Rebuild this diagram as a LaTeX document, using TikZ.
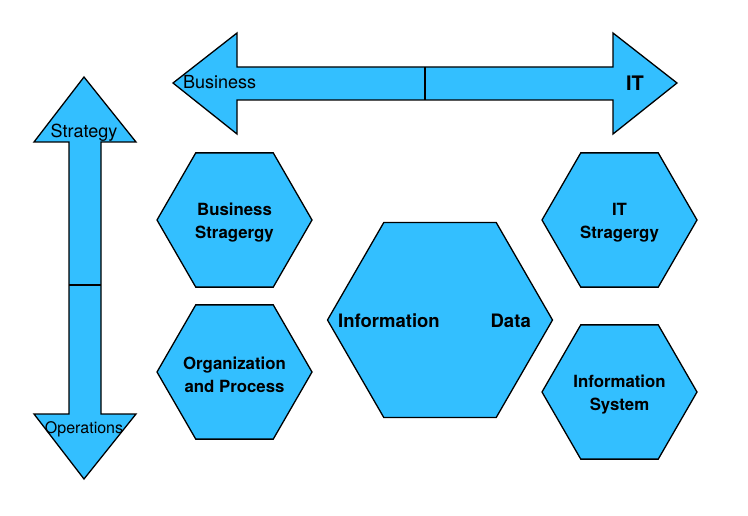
\documentclass[tikz,border=0pt]{standalone}
\usepackage{fontspec}
\setmainfont{TeX Gyre Heros}
\usetikzlibrary{shapes.geometric}
\definecolor{skyfill}{RGB}{51,191,255}
\begin{document}
\begin{tikzpicture}[x=1pt,y=-1pt,
  hexa/.style={regular polygon, regular polygon sides=6, draw, line width=1.3pt,
    fill=skyfill, minimum size=155pt, inner sep=0pt},
  hextext/.style={align=center, inner sep=0pt, yshift=-3pt,
    font=\fontsize{16.8}{23}\selectfont\bfseries},
  bigarrow/.style={draw, line width=1.3pt, fill=skyfill, line join=miter},
  tag/.style={font=\fontsize{18}{20}\selectfont, inner sep=0pt}]
  \useasboundingbox (0,0) rectangle (748,516);
  % Business <-> IT
  \draw[bigarrow] (173,83) -- (237,33) -- (237,67) -- (613,67) -- (613,33) -- (677,83)
    -- (613,134) -- (613,100) -- (237,100) -- (237,134) -- cycle;
  \draw[line width=1.3pt] (425,67) -- (425,100);
  \node[tag, anchor=base west] (business) at (183,89) {Business};
  \node[tag, anchor=base, font=\fontsize{20}{22}\selectfont\bfseries] (it) at (635,91) {IT};
  % Strategy <-> Operations
  \draw[bigarrow] (84,77) -- (136,142) -- (101,142) -- (101,414) -- (136,414) -- (84,479)
    -- (34,414) -- (69,414) -- (69,142) -- (34,142) -- cycle;
  \draw[line width=1.3pt] (69,285) -- (101,285);
  \node[tag, anchor=base] (strategy) at (84,138) {Strategy};
  \node[tag, anchor=base, font=\fontsize{16}{18}\selectfont] (operations) at (84,433) {Operations};
  % business side
  \node[hexa, label={[hextext]center:Business\\Stragergy}] (bizstrat) at (234.5,220) {};
  \node[hexa, label={[hextext]center:Organization\\and Process}] (orgproc) at (234.5,372) {};
  % centre
  \node[hexa, minimum size=225pt] (core) at (440,320) {};
  \node[anchor=base west, inner sep=0pt, font=\fontsize{18.5}{20}\selectfont\bfseries]
    (information) at (338,327) {Information};
  \node[anchor=base east, inner sep=0pt, font=\fontsize{18.5}{20}\selectfont\bfseries]
    (data) at (531,327) {Data};
  % IT side
  \node[hexa, label={[hextext]center:IT\\Stragergy}] (itstrat) at (619.5,220) {};
  \node[hexa, label={[hextext]center:Information\\System}] (infosys) at (619.5,392) {};
\end{tikzpicture}
\end{document}
